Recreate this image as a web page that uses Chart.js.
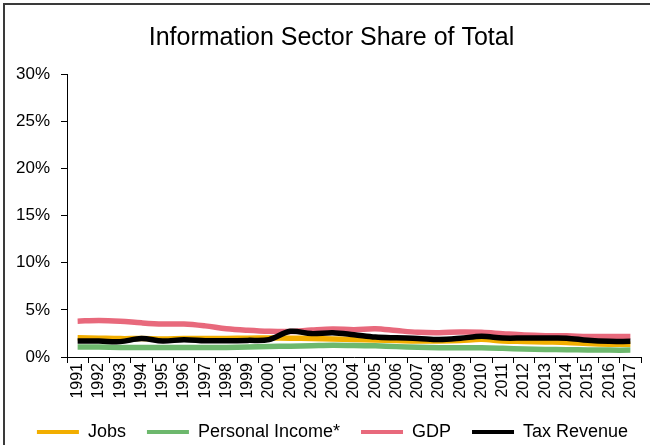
<!DOCTYPE html>
<html>
<head>
<meta charset="utf-8">
<script src="https://cdn.jsdelivr.net/npm/chart.js@4.4.1/dist/chart.umd.min.js"></script>
<style>
  html, body { margin: 0; padding: 0; background: #fff; overflow: hidden; }
  #wrap { position: relative; width: 650px; height: 445px; }
  #frame { position: absolute; left: 3px; top: 3px; width: 680px; height: 480px;
           border: 2px solid #3a3a3a; pointer-events: none; box-sizing: border-box; }
  canvas { display: block; }
</style>
</head>
<body>
<div id="wrap">
  <canvas id="c" width="650" height="445"></canvas>
  <div id="frame"></div>
</div>
<script>
const years = ["1991","1992","1993","1994","1995","1996","1997","1998","1999","2000","2001","2002","2003","2004","2005","2006","2007","2008","2009","2010","2011","2012","2013","2014","2015","2016","2017"];
const jobs = [2.05,2.0,1.95,1.95,1.9,1.95,1.95,1.97,2.0,2.02,2.0,1.95,1.9,1.85,1.8,1.75,1.7,1.7,1.75,1.87,1.7,1.65,1.6,1.55,1.42,1.35,1.35];
const personalIncome = [1.05,1.05,1.02,1.0,1.0,1.0,1.0,1.02,1.05,1.12,1.15,1.2,1.25,1.22,1.18,1.1,1.03,0.98,0.97,0.97,0.92,0.85,0.8,0.78,0.75,0.73,0.73];
const gdp = [3.8,3.88,3.8,3.62,3.5,3.5,3.3,3.0,2.83,2.72,2.7,2.86,2.98,2.9,3.0,2.8,2.62,2.58,2.65,2.62,2.47,2.33,2.26,2.24,2.17,2.17,2.17];
const taxRevenue = [1.69,1.69,1.63,1.96,1.69,1.84,1.72,1.72,1.76,1.84,2.72,2.48,2.58,2.37,2.12,2.03,1.97,1.85,1.98,2.2,2.01,2.01,2.01,2.0,1.77,1.66,1.66];
const yTicks = [0,5,10,15,20,25,30];

const FONT = "'Liberation Sans', Arial, sans-serif";

// shift title and legend horizontally to match the reference's centring
const shiftBlocks = {
  id: 'shiftBlocks',
  afterLayout(chart) {
    if (chart.titleBlock) { chart.titleBlock.left += 11; chart.titleBlock.right += 11; }
    if (chart.legend) { chart.legend.left += 12; chart.legend.right += 12; }
  }
};

new Chart(document.getElementById('c'), {
  type: 'line',
  data: {
    labels: years,
    datasets: [
      { label: 'Jobs', data: jobs, borderColor: '#F2AE00', backgroundColor: '#F2AE00', order: 4 },
      { label: 'Personal Income*', data: personalIncome, borderColor: '#6DB86D', backgroundColor: '#6DB86D', order: 3 },
      { label: 'GDP', data: gdp, borderColor: '#E8697C', backgroundColor: '#E8697C', order: 2 },
      { label: 'Tax Revenue', data: taxRevenue, borderColor: '#000000', backgroundColor: '#000000', order: 1 }
    ].map(d => Object.assign(d, { borderWidth: 5.5, pointRadius: 0, tension: 0.35, fill: false }))
  },
  plugins: [shiftBlocks],
  options: {
    responsive: false,
    animation: false,
    devicePixelRatio: 1,
    layout: { padding: { left: 0, right: 9, top: 0, bottom: -6 } },
    plugins: {
      tooltip: { enabled: false },
      title: {
        display: true,
        text: 'Information Sector Share of Total',
        color: '#000',
        font: { family: FONT, size: 25, weight: 'normal', lineHeight: 1.2 },
        padding: { top: 23, bottom: 21 }
      },
      legend: {
        position: 'bottom',
        labels: {
          color: '#000',
          font: { family: FONT, size: 18 },
          boxWidth: 42,
          boxHeight: 4,
          padding: 21,
          sort: (a, b) => a.datasetIndex - b.datasetIndex,
          generateLabels: chart => Chart.defaults.plugins.legend.labels.generateLabels(chart)
            .map(l => Object.assign(l, { lineWidth: 0, fillStyle: l.strokeStyle }))
        }
      }
    },
    scales: {
      x: {
        type: 'category',
        offset: true,
        border: { display: true, color: '#000', width: 1 },
        grid: { display: true, offset: true, drawOnChartArea: false, drawTicks: true, tickLength: 6, color: '#000' },
        ticks: { color: '#000', font: { family: FONT, size: 16 }, minRotation: 90, maxRotation: 90, autoSkip: false, padding: 0 },
        afterFit: s => { s.height = 45; }
      },
      y: {
        min: 0, max: 30,
        afterBuildTicks: s => { s.ticks = yTicks.map(v => ({ value: v })); },
        border: { display: true, color: '#000', width: 1 },
        grid: { display: true, drawOnChartArea: false, drawTicks: true, tickLength: 6, color: '#000' },
        ticks: { color: '#000', font: { family: FONT, size: 17 }, padding: 11, callback: v => v + '%' },
        afterFit: s => { s.width = 67; }
      }
    }
  }
});
</script>
</body>
</html>
